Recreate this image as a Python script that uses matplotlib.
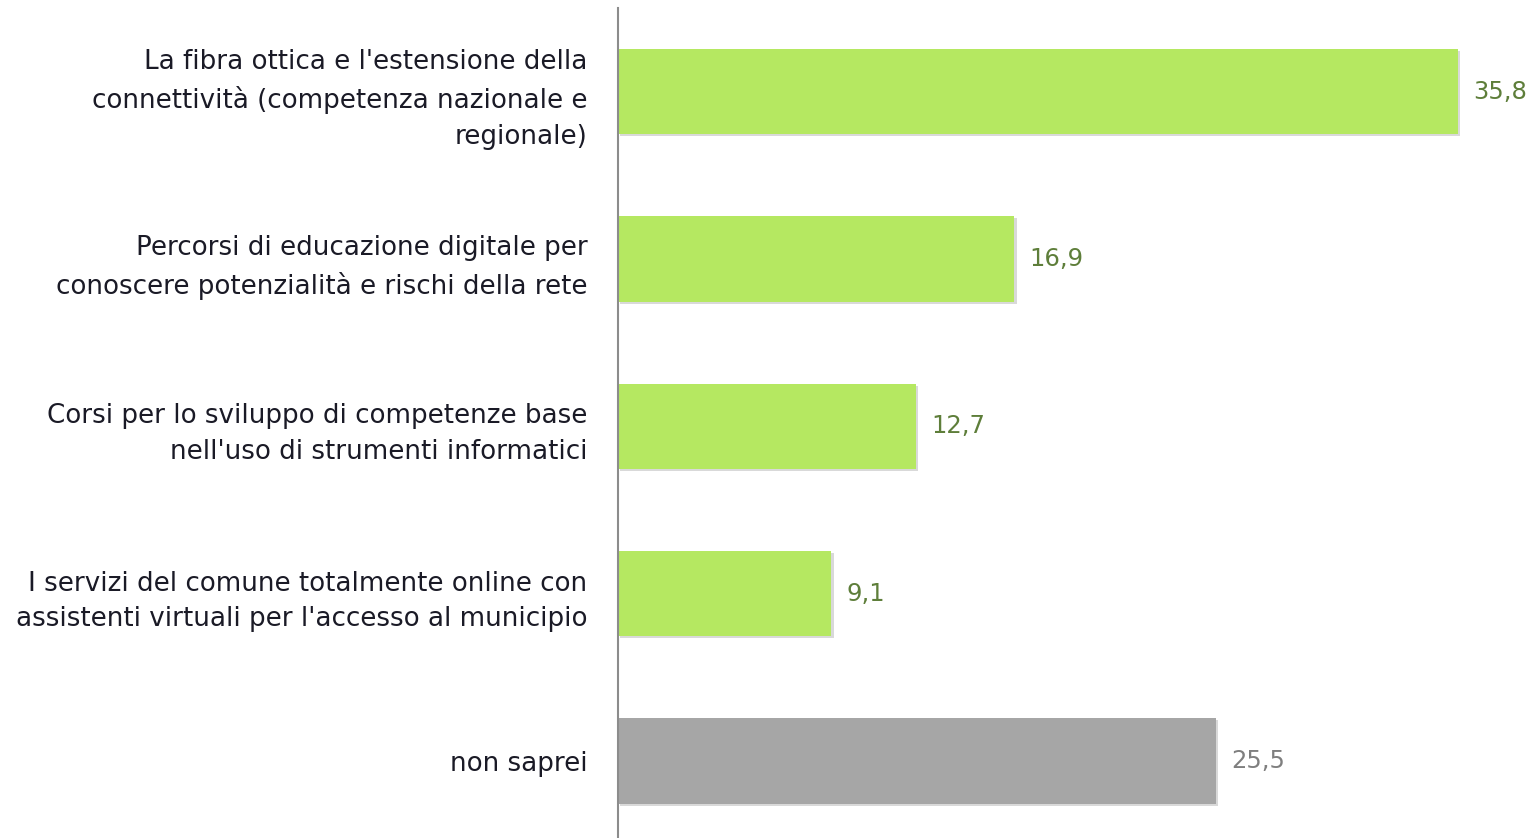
import matplotlib
matplotlib.use("Agg")
import matplotlib.pyplot as plt
import matplotlib.patheffects as pe

categories = [
    "La fibra ottica e l'estensione della\nconnettività (competenza nazionale e\nregionale)",
    "Percorsi di educazione digitale per\nconoscere potenzialità e rischi della rete",
    "Corsi per lo sviluppo di competenze base\nnell'uso di strumenti informatici",
    "I servizi del comune totalmente online con\nassistenti virtuali per l'accesso al municipio",
    "non saprei",
]
values = [35.8, 16.9, 12.7, 9.1, 25.5]
bar_colors = ["#B5E861", "#B5E861", "#B5E861", "#B5E861", "#A6A6A6"]
label_colors = ["#5E7E3A", "#5E7E3A", "#5E7E3A", "#5E7E3A", "#7F7F7F"]

W, H = 1533, 838
fig = plt.figure(figsize=(W / 100, H / 100), dpi=100)
ax = fig.add_axes([618 / W, 0, 1 - 618 / W, 830 / H])

y = list(range(len(categories)))
bars = ax.barh(y, values, height=0.51, color=bar_colors, edgecolor="none")
for b in bars:
    b.set_path_effects([pe.SimplePatchShadow(offset=(1.5, -1.5), shadow_rgbFace="#000000", alpha=0.15), pe.Normal()])

ax.set_xlim(0, (W - 618) / 23.46)
ax.set_ylim(4.46, -0.5)

for yi, v, c in zip(y, values, label_colors):
    ax.annotate(f"{v:.1f}".replace(".", ","), xy=(v, yi), xytext=(11, 0), textcoords="offset points",
                va="center", ha="left", fontsize=17.5, color=c, family="DejaVu Sans")

ax.set_yticks(y)
ax.set_yticklabels(categories, fontsize=18.8, family="DejaVu Sans", color="#1a1a26", linespacing=1.48)
ax.tick_params(axis="y", length=0, pad=22)
ax.set_xticks([])
for s in ["top", "right", "bottom"]:
    ax.spines[s].set_visible(False)
ax.spines["left"].set_color("#8C8C8C")
ax.spines["left"].set_linewidth(1.5)

fig.savefig("out.png", dpi=100, facecolor="white")
